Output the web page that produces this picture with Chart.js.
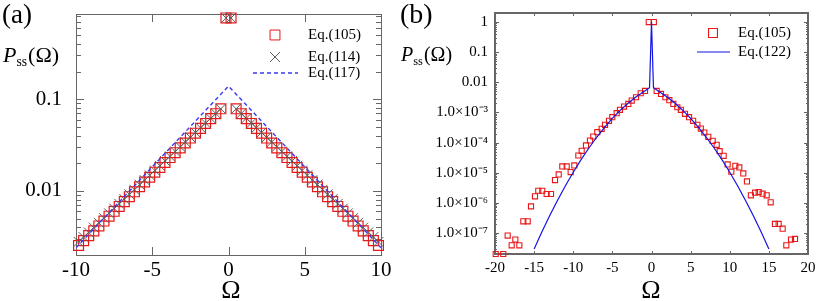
<!DOCTYPE html>
<html>
<head>
<meta charset="utf-8">
<script src="https://cdn.jsdelivr.net/npm/chart.js@4.4.1/dist/chart.umd.min.js"></script>
<style>
body { margin: 0; background: #fff; width: 817px; height: 301px; overflow: hidden; position: relative; font-family: "Liberation Serif", serif; }
canvas { position: absolute; top: 0; }
#chartA { left: 0; }
#chartB { left: 400px; }
.lbl { position: absolute; white-space: nowrap; line-height: 1; color: #000; }
.sb { font-size: 0.62em; position: relative; top: 0.3em; margin-right: 1px; }
.om { font-size: 26px; transform: translateX(-50%); }
</style>
</head>
<body>
<canvas id="chartA" width="400" height="301"></canvas>
<canvas id="chartB" width="417" height="301"></canvas>
<div class="lbl" style="left:2px;top:1px;font-size:27px">(a)</div>
<div class="lbl" style="left:400px;top:0px;font-size:28px">(b)</div>
<div class="lbl" style="left:3px;top:44px;font-size:22px"><i>P</i><span class="sb">ss</span>(Ω)</div>
<div class="lbl" style="left:401px;top:44px;font-size:20px"><i>P</i><span class="sb">ss</span>(Ω)</div>
<div class="lbl om" style="left:231px;top:277px">Ω</div>
<div class="lbl om" style="left:651px;top:277px">Ω</div>
<script>
// panel (a)
const omegaA = [-9.833, -9.5, -9.167, -8.833, -8.5, -8.167, -7.833, -7.5, -7.167, -6.833,
    -6.5, -6.167, -5.833, -5.5, -5.167, -4.833, -4.5, -4.167, -3.833, -3.5,
    -3.167, -2.833, -2.5, -2.167, -1.833, -1.5, -1.167, -0.833, -0.5, -0.167,
    0.167, 0.5, 0.833, 1.167, 1.5, 1.833, 2.167, 2.5, 2.833, 3.167,
    3.5, 3.833, 4.167, 4.5, 4.833, 5.167, 5.5, 5.833, 6.167, 6.5,
    6.833, 7.167, 7.5, 7.833, 8.167, 8.5, 8.833, 9.167, 9.5, 9.833];
const eq105A = [0.00254, 0.00287, 0.00325, 0.00367, 0.00415, 0.00469, 0.00530, 0.00599, 0.00677, 0.00765,
    0.00865, 0.00978, 0.0111, 0.0125, 0.0141, 0.0160, 0.0180, 0.0204, 0.0231, 0.0261,
    0.0295, 0.0333, 0.0377, 0.0426, 0.0481, 0.0544, 0.0615, 0.0695, 0.0786, 0.77,
    0.77, 0.0786, 0.0695, 0.0615, 0.0544, 0.0481, 0.0426, 0.0377, 0.0333, 0.0295,
    0.0261, 0.0231, 0.0204, 0.0180, 0.0160, 0.0141, 0.0125, 0.0111, 0.00978, 0.00865,
    0.00765, 0.00677, 0.00599, 0.00530, 0.00469, 0.00415, 0.00367, 0.00325, 0.00287, 0.00254];
const eq114A = [0.00278, 0.00314, 0.00353, 0.00398, 0.00449, 0.00505, 0.00570, 0.00642, 0.00723, 0.00815,
    0.00918, 0.0103, 0.0117, 0.0131, 0.0148, 0.0167, 0.0188, 0.0212, 0.0238, 0.0269,
    0.0303, 0.0341, 0.0384, 0.0433, 0.0488, 0.0550, 0.0619, 0.0698, 0.0786, 0.77,
    0.77, 0.0786, 0.0698, 0.0619, 0.0550, 0.0488, 0.0433, 0.0384, 0.0341, 0.0303,
    0.0269, 0.0238, 0.0212, 0.0188, 0.0167, 0.0148, 0.0131, 0.0117, 0.0103, 0.00918,
    0.00815, 0.00723, 0.00642, 0.00570, 0.00505, 0.00449, 0.00398, 0.00353, 0.00314, 0.00278];
const omegaA117 = [-10, -5, 0, 5, 10];
const eq117A = [0.0024, 0.0183, 0.139, 0.0183, 0.0024];
const yTicksA = [0.01, 0.1];
const yLabelsA = ["0.01", "0.1"];

// panel (b)
const omegaB105 = [-19.91, -18.94, -18.38, -17.87, -17.4, -16.89, -16.38, -15.82, -15.4, -14.89,
    -14.47, -13.96, -13.4, -12.84, -12.33, -11.86, -11.4, -10.84, -10.33, -9.86,
    -9.35, -8.92, -8.37, -7.86, -7.44, -6.93, -6.37, -5.94, -5.43, -5.01,
    -4.45, -4.03, -3.51, -2.96, -2.53, -1.98, -1.38, -0.83, -0.35, 0.3,
    0.66, 1.21, 1.77, 2.28, 2.79, 3.3, 3.75, 4.28, 4.8, 5.32,
    5.86, 6.3, 6.75, 7.26, 7.82, 8.33, 8.71, 9.22, 9.73, 10.2,
    10.71, 11.22, 11.73, 12.2, 12.7, 13.23, 13.7, 14.2, 14.72, 15.23,
    15.78, 16.25, 16.76, 17.23, 17.83, 18.34];
const eq105B = [2.0e-8, 2.0e-8, 8.17e-8, 3.89e-8, 6.01e-8, 3.89e-8, 2.43e-7, 2.43e-7, 7.62e-7, 1.64e-6,
    2.52e-6, 2.52e-6, 1.96e-6, 1.96e-6, 5.69e-6, 8.77e-6, 1.61e-5, 1.61e-5, 1.05e-5, 1.74e-5,
    3.73e-5, 5.33e-5, 8.02e-5, 1.17e-4, 1.59e-4, 2.21e-4, 2.86e-4, 3.87e-4, 5.26e-4, 6.97e-4,
    9.44e-4, 1.22e-3, 1.57e-3, 1.92e-3, 2.48e-3, 3.20e-3, 4.34e-3, 5.19e-3, 1.0, 1.0,
    5.19e-3, 4.12e-3, 3.20e-3, 2.55e-3, 1.92e-3, 1.49e-3, 1.22e-3, 8.97e-4, 6.97e-4, 5.26e-4,
    3.87e-4, 2.92e-4, 2.16e-4, 1.55e-4, 1.14e-4, 8.43e-5, 5.20e-5, 3.64e-5, 1.88e-5, 1.08e-5,
    1.70e-5, 1.50e-5, 9.46e-6, 5.14e-6, 1.77e-6, 2.17e-6, 2.28e-6, 2.01e-6, 1.77e-6, 1.04e-6,
    1.99e-7, 1.99e-7, 1.39e-7, 3.89e-8, 6.01e-8, 6.34e-8];
const omegaB122 = [-15, -14, -13, -12, -11, -10, -9, -8, -7, -6, -5, -4, -3, -2, -1, -0.25,
    0, 0.25, 1, 2, 3, 4, 5, 6, 7, 8, 9, 10, 11, 12, 13, 14, 15];
const eq122B = [2.94e-8, 1.09e-7, 3.78e-7, 1.22e-6, 3.68e-6, 1.03e-5, 2.70e-5, 6.61e-5, 1.50e-4, 3.19e-4,
    6.32e-4, 1.17e-3, 2.01e-3, 3.23e-3, 4.84e-3, 6.6e-3,
    1.0, 6.6e-3, 4.84e-3, 3.23e-3, 2.01e-3, 1.17e-3, 6.32e-4, 3.19e-4, 1.50e-4, 6.61e-5,
    2.70e-5, 1.03e-5, 3.68e-6, 1.22e-6, 3.78e-7, 1.09e-7, 2.94e-8];
const yTicksB = [1e-7, 1e-6, 1e-5, 1e-4, 1e-3, 0.01, 0.1, 1];
const yLabelsB = ["1.0×10⁻⁷", "1.0×10⁻⁶", "1.0×10⁻⁵", "1.0×10⁻⁴", "1.0×10⁻³", "0.01", "0.1", "1"];

function pts(xs, ys) {
    return xs.map((x, i) => ({ x: x, y: ys[i] }));
}

// box round the plot with inward tick marks (log minor ticks too)
const frameTicks = {
    id: "frameTicks",
    beforeDatasetsDraw(chart, args, o) {
        const ctx = chart.ctx;
        const a = chart.chartArea;
        const xs = chart.scales.x, ys = chart.scales.y;
        ctx.save();
        ctx.strokeStyle = o.color;
        ctx.lineWidth = 1;
        ctx.beginPath();
        xs.ticks.forEach(t => {
            const p = Math.round(xs.getPixelForValue(t.value)) + 0.5;
            ctx.moveTo(p, a.bottom); ctx.lineTo(p, a.bottom - o.xLen);
            ctx.moveTo(p, a.top); ctx.lineTo(p, a.top + o.xLen);
        });
        const lo = Math.floor(Math.log10(ys.min)), hi = Math.ceil(Math.log10(ys.max));
        for (let e = lo; e <= hi; e++) {
            for (let m = 1; m <= 9; m++) {
                const v = m * Math.pow(10, e);
                if (v < ys.min || v > ys.max) continue;
                const p = Math.round(ys.getPixelForValue(v)) + 0.5;
                const len = m === 1 ? o.majorLen : o.minorLen;
                ctx.moveTo(a.left, p); ctx.lineTo(a.left + len, p);
                ctx.moveTo(a.right, p); ctx.lineTo(a.right - len, p);
            }
        }
        ctx.stroke();
        ctx.lineWidth = o.width;
        const off = o.width % 2 ? 0.5 : 0;
        ctx.strokeRect(Math.round(a.left) + off, Math.round(a.top) + off,
            Math.round(a.right - a.left), Math.round(a.bottom - a.top));
        ctx.restore();
    }
};

// legend drawn inside the plot
const legendBox = {
    id: "legendBox",
    afterDraw(chart, args, o) {
        const ctx = chart.ctx;
        ctx.save();
        ctx.font = o.font;
        ctx.textBaseline = "middle";
        o.items.forEach(it => {
            const ds = chart.data.datasets[it.dataset];
            if (it.line) {
                ctx.strokeStyle = ds.borderColor;
                ctx.lineWidth = ds.borderWidth;
                ctx.setLineDash(ds.borderDash || []);
                ctx.beginPath();
                ctx.moveTo(it.line[0], it.y); ctx.lineTo(it.line[1], it.y);
                ctx.stroke();
                ctx.setLineDash([]);
            } else {
                ctx.strokeStyle = ds.pointBorderColor;
                ctx.fillStyle = "rgba(0,0,0,0)";
                Chart.helpers.drawPoint(ctx, {
                    pointStyle: ds.pointStyle, radius: it.r || ds.pointRadius,
                    borderWidth: ds.pointBorderWidth, rotation: 0
                }, it.x, it.y);
            }
            ctx.fillStyle = "#000";
            ctx.fillText(ds.label, o.textX, it.y);
        });
        ctx.restore();
    }
};

// keep label overhang from pushing the plot box around
function fixY(w) {
    return s => { s.width = w; s.paddingTop = 0; s.paddingBottom = 0; };
}
function fixX(h) {
    return s => { s.height = h; s.paddingLeft = 0; s.paddingRight = 0; };
}

const chartA = new Chart(document.getElementById("chartA"), {
    type: "scatter",
    data: {
        datasets: [{
            label: "Eq.(117)",
            data: pts(omegaA117, eq117A),
            showLine: true,
            borderColor: "#3a3af0",
            borderWidth: 1.4,
            borderDash: [4, 3],
            pointRadius: 0
        }, {
            label: "Eq.(114)",
            data: pts(omegaA, eq114A),
            pointStyle: "crossRot",
            pointRadius: 7,
            pointBorderColor: "#5e5e5e",
            pointBackgroundColor: "rgba(0,0,0,0)",
            pointBorderWidth: 1,
            clip: false
        }, {
            label: "Eq.(105)",
            data: pts(omegaA, eq105A),
            pointStyle: "rect",
            pointRadius: 7,
            pointBorderColor: "#e81818",
            pointBackgroundColor: "rgba(0,0,0,0)",
            pointBorderWidth: 1.2,
            clip: false
        }]
    },
    options: {
        responsive: false,
        animation: false,
        layout: { padding: { top: 14, right: 19, left: 0, bottom: 0 } },
        plugins: {
            legend: { display: false },
            tooltip: { enabled: false },
            frameTicks: { color: "#666", width: 1, xLen: 8, majorLen: 8, minorLen: 5 },
            legendBox: {
                font: "15px 'Liberation Serif'",
                textX: 308,
                items: [
                    { dataset: 2, x: 275, y: 35 },
                    { dataset: 1, x: 275, y: 57 },
                    { dataset: 0, line: [253, 298], y: 73 }
                ]
            }
        },
        scales: {
            x: {
                type: "linear",
                min: -10, max: 10,
                grid: { display: false, drawTicks: false },
                border: { display: false },
                ticks: { stepSize: 5, padding: 3, color: "#000", font: { family: "Liberation Serif", size: 21 } },
                afterFit: fixX(46)
            },
            y: {
                type: "logarithmic",
                min: 0.002, max: 0.85,
                grid: { display: false, drawTicks: false },
                border: { display: false },
                afterBuildTicks: s => { s.ticks = yTicksA.map(v => ({ value: v })); },
                ticks: {
                    autoSkip: false, padding: 14, color: "#000",
                    font: { family: "Liberation Serif", size: 21 },
                    callback: (v, i) => yLabelsA[i]
                },
                afterFit: fixY(76)
            }
        }
    },
    plugins: [frameTicks, legendBox]
});

const chartB = new Chart(document.getElementById("chartB"), {
    type: "scatter",
    data: {
        datasets: [{
            label: "Eq.(122)",
            data: pts(omegaB122, eq122B),
            showLine: true,
            borderColor: "#1414e6",
            borderWidth: 1.2,
            pointRadius: 0
        }, {
            label: "Eq.(105)",
            data: pts(omegaB105, eq105B),
            pointStyle: "rect",
            pointRadius: 3.6,
            pointBorderColor: "#e81818",
            pointBackgroundColor: "rgba(0,0,0,0)",
            pointBorderWidth: 1.1,
            clip: false
        }]
    },
    options: {
        responsive: false,
        animation: false,
        layout: { padding: { top: 13, right: 9, left: 0, bottom: 0 } },
        plugins: {
            legend: { display: false },
            tooltip: { enabled: false },
            frameTicks: { color: "#666", width: 2, xLen: 3, majorLen: 4, minorLen: 2 },
            legendBox: {
                font: "15px 'Liberation Serif'",
                textX: 338,
                items: [
                    { dataset: 1, x: 313, y: 33, r: 6.3 },
                    { dataset: 0, line: [297, 330], y: 52 }
                ]
            }
        },
        scales: {
            x: {
                type: "linear",
                min: -20, max: 20,
                grid: { display: false, drawTicks: false },
                border: { display: false },
                ticks: { stepSize: 5, padding: 5, color: "#000", font: { family: "Liberation Serif", size: 15 } },
                afterFit: fixX(47)
            },
            y: {
                type: "logarithmic",
                min: 2e-8, max: 2,
                grid: { display: false, drawTicks: false },
                border: { display: false },
                afterBuildTicks: s => { s.ticks = yTicksB.map(v => ({ value: v })); },
                ticks: {
                    autoSkip: false, padding: 7, color: "#000",
                    font: { family: "Liberation Serif", size: 15 },
                    callback: (v, i) => yLabelsB[i]
                },
                afterFit: fixY(95)
            }
        }
    },
    plugins: [frameTicks, legendBox]
});
</script>
</body>
</html>
